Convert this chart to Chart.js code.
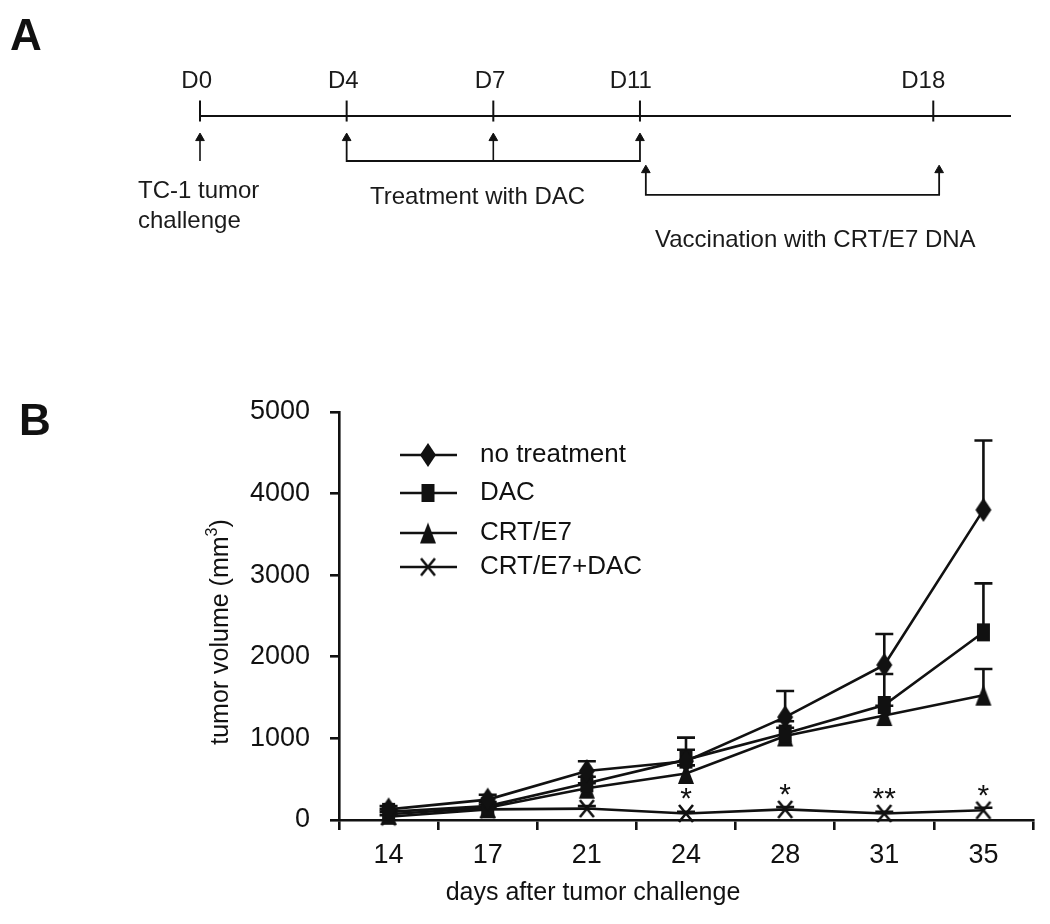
<!DOCTYPE html>
<html>
<head>
<meta charset="utf-8">
<script src="https://cdn.jsdelivr.net/npm/chart.js@4"></script>
<style>
  body { margin: 0; background: #fff; width: 1050px; height: 924px; position: relative; overflow: hidden; }
  canvas { position: absolute; left: 0; }
  #cA { top: 0; }
  #cB { top: 300px; }
  .panel { position: absolute; font: bold 44px/44px "Liberation Sans", Arial, sans-serif; color: #111; }
</style>
</head>
<body>
<canvas id="cA" width="1050" height="300"></canvas>
<canvas id="cB" width="1050" height="624"></canvas>
<div class="panel" style="left:10px;top:13px">A</div>
<div class="panel" style="left:19px;top:398px">B</div>
<script>
// ---- panel A: schedule ----
const timelineLabels = ['D0', 'D4', 'D7', 'D11', 'D18'];
const challengeDays = ['D0'];
const dacDays = ['D4', 'D7', 'D11'];
const vaccineDays = ['D11', 'D18'];

// ---- panel B: tumor volume ----
const days = ['14', '17', '21', '24', '28', '31', '35'];
const yTicks = [0, 1000, 2000, 3000, 4000, 5000];
const seriesNames = ['no treatment', 'DAC', 'CRT/E7', 'CRT/E7+DAC'];
const noTreatment    = [130, 250, 600, 720, 1260, 1900, 3800];
const noTreatmentErr = [40, 60, 120, 290, 320, 380, 850];
const dac            = [100, 170, 450, 740, 1060, 1410, 2300];
const dacErr         = [30, 50, 80, 120, 150, 380, 600];
const crtE7          = [70, 150, 390, 570, 1030, 1280, 1530];
const crtE7Err       = [30, 40, 60, 100, 100, 120, 320];
const crtE7Dac       = [40, 130, 140, 80, 130, 80, 120];
const crtE7DacErr    = [20, 30, 30, 20, 30, 20, 30];
const significance   = ['', '', '', '*', '*', '**', '*'];

const family = "'Liberation Sans', Arial, Helvetica, sans-serif";
const ink = '#111';
Chart.defaults.font.family = family;
Chart.defaults.color = ink;
Chart.defaults.animation = false;
Chart.defaults.plugins.legend.display = false;
Chart.defaults.plugins.tooltip.enabled = false;

// schematic layout of panel A (not to scale, like the figure)
const slotOf = { D0: 0, D4: 1, D7: 2, D11: 3, D18: 5 };
const slotEnd = 5.53;
const lineY = 113, tipY = 132, bracketY = 162, vacTipY = 167, vacBracketY = 199;
const vacShift = 0.04;

function lineDs(points, w) {
  return { data: points, showLine: true, borderColor: ink, borderWidth: w, pointRadius: 0, clip: false };
}
function headDs(points) {
  return { data: points, showLine: false, pointStyle: 'triangle', pointRadius: 5,
           backgroundColor: ink, borderColor: ink, borderWidth: 1, clip: false };
}

const dFirst = slotOf[dacDays[0]], dLast = slotOf[dacDays[dacDays.length - 1]];
const vFirst = slotOf[vaccineDays[0]] + vacShift, vLast = slotOf[vaccineDays[vaccineDays.length - 1]] + vacShift;

const dsA = [
  lineDs([{ x: 0, y: lineY }, { x: slotEnd, y: lineY }], 2),
  { data: timelineLabels.map(d => ({ x: slotOf[d], y: lineY - 5.5 })), showLine: false,
    pointStyle: 'line', rotation: 90, pointRadius: 10.5, borderWidth: 2, borderColor: ink, clip: false },
  ...challengeDays.map(d => lineDs([{ x: slotOf[d], y: bracketY }, { x: slotOf[d], y: tipY + 4 }], 1.6)),
  lineDs([{ x: dFirst, y: tipY + 4 }, { x: dFirst, y: bracketY }, { x: dLast, y: bracketY }, { x: dLast, y: tipY + 4 }], 1.8),
  ...dacDays.slice(1, -1).map(d => lineDs([{ x: slotOf[d], y: bracketY }, { x: slotOf[d], y: tipY + 4 }], 1.6)),
  headDs([...challengeDays, ...dacDays].map(d => ({ x: slotOf[d], y: tipY + 5 }))),
  lineDs([{ x: vFirst, y: vacTipY + 4 }, { x: vFirst, y: vacBracketY }, { x: vLast, y: vacBracketY }, { x: vLast, y: vacTipY + 4 }], 1.8),
  headDs(vaccineDays.map(d => ({ x: slotOf[d] + vacShift, y: vacTipY + 5 })))
];

const notes = [
  { text: 'TC-1 tumor', x: 138, y: 191 },
  { text: 'challenge', x: 138, y: 221 },
  { text: 'Treatment with DAC', x: 370, y: 197 },
  { text: 'Vaccination with CRT/E7 DNA', x: 655, y: 240 }
];

const panelAText = {
  id: 'panelAText',
  afterDatasetsDraw(chart) {
    const { ctx, scales: { x } } = chart;
    ctx.save();
    ctx.fillStyle = '#1a1a1a';
    ctx.font = '24px ' + family;
    ctx.textBaseline = 'middle';
    ctx.textAlign = 'right';
    timelineLabels.forEach(d => ctx.fillText(d, x.getPixelForValue(slotOf[d]) + 12, 81));
    ctx.textAlign = 'left';
    notes.forEach(n => ctx.fillText(n.text, n.x, n.y));
    ctx.restore();
  }
};

new Chart(document.getElementById('cA'), {
  type: 'scatter',
  data: { datasets: dsA },
  options: {
    responsive: false,
    layout: { padding: { left: 200, right: 39, top: 0, bottom: 0 } },
    scales: {
      x: { type: 'linear', min: 0, max: slotEnd, display: false },
      y: { type: 'linear', min: 0, max: 300, reverse: true, display: false }
    }
  },
  plugins: [panelAText]
});

// markers: the original symbols are a little taller than wide
function marker(shape, w, h) {
  const c = document.createElement('canvas');
  c.width = w + 4; c.height = h + 4;
  const g = c.getContext('2d');
  const cx = c.width / 2, cy = c.height / 2;
  g.fillStyle = ink; g.strokeStyle = ink;
  g.beginPath();
  if (shape === 'diamond') {
    g.moveTo(cx, cy - h / 2); g.lineTo(cx + w / 2, cy); g.lineTo(cx, cy + h / 2); g.lineTo(cx - w / 2, cy);
    g.closePath(); g.fill();
  } else if (shape === 'square') {
    g.fillRect(cx - w / 2, cy - h / 2, w, h);
  } else if (shape === 'triangle') {
    g.moveTo(cx, cy - h / 2); g.lineTo(cx + w / 2, cy + h / 2); g.lineTo(cx - w / 2, cy + h / 2);
    g.closePath(); g.fill();
  } else {
    g.lineWidth = 2.6;
    g.moveTo(cx - w / 2, cy - h / 2); g.lineTo(cx + w / 2, cy + h / 2);
    g.moveTo(cx + w / 2, cy - h / 2); g.lineTo(cx - w / 2, cy + h / 2);
    g.stroke();
  }
  return c;
}
const markers = [marker('diamond', 16, 24), marker('square', 13, 18), marker('triangle', 16, 21), marker('x', 14, 17)];
const values = [noTreatment, dac, crtE7, crtE7Dac];
const errors = [noTreatmentErr, dacErr, crtE7Err, crtE7DacErr];

const dsB = values.map((v, i) => ({
  label: seriesNames[i], data: v, borderColor: ink, backgroundColor: ink, borderWidth: 2.6,
  pointStyle: markers[i], pointRadius: 9, tension: 0, clip: false
}));

const errorBars = {
  id: 'errorBars',
  beforeDatasetsDraw(chart) {
    const { ctx, scales: { x, y } } = chart;
    ctx.save();
    ctx.strokeStyle = ink; ctx.lineWidth = 2.6;
    errors.forEach((errs, s) => {
      errs.forEach((e, i) => {
        const px = x.getPixelForValue(i);
        const y0 = y.getPixelForValue(values[s][i]);
        const y1 = y.getPixelForValue(values[s][i] + e);
        ctx.beginPath();
        ctx.moveTo(px, y0); ctx.lineTo(px, y1);
        ctx.moveTo(px - 9, y1); ctx.lineTo(px + 9, y1);
        ctx.stroke();
      });
    });
    ctx.restore();
  },
  afterDatasetsDraw(chart) {
    const { ctx, scales: { x, y } } = chart;
    ctx.save();
    ctx.fillStyle = ink;
    ctx.font = '30px ' + family;
    ctx.textAlign = 'center';
    ctx.textBaseline = 'alphabetic';
    significance.forEach((s, i) => {
      if (s) ctx.fillText(s, x.getPixelForValue(i), y.getPixelForValue(crtE7Dac[i]) - 5);
    });
    ctx.restore();
  }
};

const legendRows = [155, 193, 233, 267];
const insideLegend = {
  id: 'insideLegend',
  afterDraw(chart) {
    const { ctx } = chart;
    ctx.save();
    ctx.strokeStyle = ink; ctx.fillStyle = ink; ctx.lineWidth = 2.6;
    ctx.font = '26px ' + family;
    ctx.textBaseline = 'middle';
    chart.data.datasets.forEach((ds, i) => {
      const ry = legendRows[i];
      ctx.beginPath(); ctx.moveTo(400, ry); ctx.lineTo(457, ry); ctx.stroke();
      const m = ds.pointStyle;
      ctx.drawImage(m, 428 - m.width / 2, ry - m.height / 2);
      ctx.fillText(ds.label, 480, ry);
    });
    // axis titles
    ctx.font = '25px ' + family;
    ctx.textAlign = 'center';
    ctx.fillText('days after tumor challenge', 593, 593);
    ctx.translate(221, 332);
    ctx.rotate(-Math.PI / 2);
    const main = 'tumor volume (mm', sup = '3', end = ')';
    const wMain = ctx.measureText(main).width, wEnd = ctx.measureText(end).width;
    ctx.font = '16px ' + family;
    const wSup = ctx.measureText(sup).width;
    const start = -(wMain + wSup + wEnd) / 2;
    ctx.textAlign = 'left';
    ctx.font = '25px ' + family;
    ctx.fillText(main, start, 0);
    ctx.fillText(end, start + wMain + wSup, 0);
    ctx.font = '16px ' + family;
    ctx.fillText(sup, start + wMain, -8);
    ctx.restore();
  }
};

new Chart(document.getElementById('cB'), {
  type: 'line',
  data: { labels: days, datasets: dsB },
  options: {
    responsive: false,
    layout: { padding: { left: 0, right: 17, top: 112, bottom: 0 } },
    scales: {
      x: {
        type: 'category', offset: true,
        grid: { offset: true, drawOnChartArea: false, tickLength: 10, color: ink, lineWidth: 2.6 },
        border: { color: ink, width: 2.6 },
        ticks: { font: { size: 27 }, color: ink, padding: 9 },
        afterFit(scale) { scale.height = 104; }
      },
      y: {
        min: 0, max: 5000,
        afterBuildTicks(scale) { scale.ticks = yTicks.map(v => ({ value: v })); },
        grid: { drawOnChartArea: false, tickLength: 9, color: ink, lineWidth: 2.6 },
        border: { color: ink, width: 2.6 },
        ticks: { font: { size: 27 }, color: ink, padding: 20, callback: v => String(v) },
        afterFit(scale) { scale.width = 339; }
      }
    }
  },
  plugins: [errorBars, insideLegend]
});
</script>
</body>
</html>
